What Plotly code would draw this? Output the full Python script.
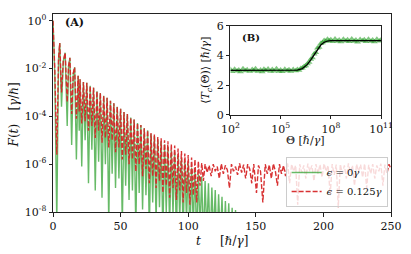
import plotly.graph_objects as go

# ---------------- data ----------------
# panel A: F(t) on log scale, stored as log10 F
green_t = [0, 1.3, 2.8, 4.1, 5.0, 6.3, 7.6, 9.0, 10.5, 11.5, 12.5, 13.8, 15.0, 16.0, 17.3, 18.6, 19.4, 20.0,
           21.25, 22.5, 23.75, 25, 26.25, 27.5, 28.75, 30, 31.25, 32.5, 33.75, 35, 36.25, 37.5, 38.75, 40,
           41.25, 42.5, 43.75, 45, 46.25, 47.5, 48.75, 50, 51.25, 52.5, 53.75, 55, 56.25, 57.5, 58.75, 60,
           61.25, 62.5, 63.75, 65, 66.25, 67.5, 68.75, 70, 71.25, 72.5, 73.75, 75, 76.25, 77.5, 78.75, 80,
           81.25, 82.5, 83.75, 85, 86.25, 87.5, 88.75, 90, 91.25, 92.5, 93.75, 95, 96.25, 97.5, 98.75, 100,
           101.25, 102.5, 103.75, 105, 106.25, 107.5, 108.75, 110, 111.25, 112.5, 113.75, 115, 116.25, 117.5,
           118.75, 120, 121.25, 122.5, 123.75, 125, 126.25, 127.5, 128.75, 130, 131.25, 132.5, 133.75, 135,
           136.25, 137.5, 138.75, 140]
green_logF = [0.0, -2.2, -8.4, -1.6, -0.93, -3.6, -1.7, -1.34, -4.4, -1.9, -1.55, -5.2, -2.2, -1.95, -5.8, -2.3, -4.6, -2.45,
              -6.1, -2.56, -5.0, -2.60, -6.8, -2.72, -5.4, -2.80, -7.1, -2.95, -5.9, -3.02, -7.4, -3.14, -6.0, -3.22,
              -8.5, -3.35, -6.4, -3.45, -7.0, -3.60, -6.6, -3.68, -8.6, -3.82, -6.9, -3.90, -7.5, -4.05, -7.1, -4.13,
              -8.7, -4.28, -7.2, -4.36, -7.9, -4.50, -7.3, -4.58, -8.8, -4.74, -7.6, -4.82, -8.4, -4.96, -7.8, -5.04,
              -8.9, -5.18, -8.0, -5.27, -8.6, -5.42, -8.1, -5.50, -9.0, -5.66, -8.3, -5.74, -8.9, -5.90, -8.4, -5.98,
              -9.1, -6.15, -8.6, -6.24, -9.2, -6.42, -8.7, -6.52, -9.3, -6.70, -8.9, -6.80, -9.4, -6.98,
              -9.0, -7.08, -9.5, -7.26, -9.2, -7.36, -9.6, -7.54, -9.4, -7.64, -9.7, -7.82, -9.5, -7.92,
              -9.8, -8.10, -9.9, -8.25]

red_t = [0, 1.3, 2.8, 4.1, 5.0, 6.3, 7.6, 9.0, 10.5, 11.5, 12.5, 13.8, 15.0, 16.0, 17.3, 18.6, 19.4, 20.0,
         21.25, 22.5, 23.75, 25, 26.25, 27.5, 28.75, 30, 31.25, 32.5, 33.75, 35, 36.25, 37.5, 38.75, 40,
         41.25, 42.5, 43.75, 45, 46.25, 47.5, 48.75, 50, 51.25, 52.5, 53.75, 55, 56.25, 57.5, 58.75, 60,
         61.25, 62.5, 63.75, 65, 66.25, 67.5, 68.75, 70, 71.25, 72.5, 73.75, 75, 76.25, 77.5, 78.75, 80,
         81.25, 82.5, 83.75, 85, 86.25, 87.5, 88.75, 90, 91.25, 92.5, 93.75, 95, 96.25, 97.5, 98.75, 100,
         101.25, 102.5, 103.75, 105, 106.25, 107.5, 108.75, 110, 111.25, 112.5,
         114, 115.5, 117, 118.5, 120, 121.5, 123, 124.5, 126, 127.5, 129, 130.5, 132, 133.5, 135, 136.5,
         138, 139.5, 141, 142.5, 144, 145.5, 147, 148.5, 150.5, 152, 153.5, 155.2, 157, 158.5, 160, 161.5,
         163, 164.5, 166, 167.5, 169, 170.5, 172, 173.5, 175, 176.5, 178, 179.5, 181, 182.5, 184, 185.5,
         187, 188.5, 190, 191.5, 193, 194.5, 196, 197.5, 199, 200.5, 202, 203.5, 205, 206.5, 208, 209.5,
         211, 212.5, 214, 215.5, 217, 218.5, 220, 221.5, 223, 224.5, 226, 227.5, 229, 230.5, 232, 233.5,
         235, 236.5, 238, 239.5, 241, 242.5, 244, 245.5, 247, 248.5, 250]
red_logF = [0.0, -2.0, -5.6, -1.6, -0.93, -3.0, -1.7, -1.34, -3.4, -1.9, -1.55, -3.9, -2.2, -1.95, -4.1, -2.3, -3.8, -2.45,
            -4.3, -2.56, -4.2, -2.60, -4.6, -2.72, -4.4, -2.80, -4.9, -2.95, -4.6, -3.02, -5.1, -3.14, -4.9, -3.22,
            -5.3, -3.35, -5.0, -3.45, -5.5, -3.60, -5.3, -3.68, -5.8, -3.82, -5.6, -3.90, -6.0, -4.05, -5.8, -4.13,
            -6.3, -4.28, -6.0, -4.36, -6.5, -4.50, -6.2, -4.58, -6.8, -4.70, -6.5, -4.76, -7.0, -4.86, -6.7, -4.92,
            -7.2, -5.00, -6.9, -5.04, -7.4, -5.16, -7.0, -5.22, -7.5, -5.35, -7.1, -5.45, -7.6, -5.55, -7.2, -5.62,
            -7.7, -5.72, -7.3, -5.80, -7.6, -5.88, -6.9, -5.95, -6.7, -6.00,
            -6.35, -6.05, -6.5, -6.00, -6.3, -6.10, -6.6, -5.98, -6.4, -6.05, -6.25, -7.0, -6.00, -6.3, -6.10, -6.45,
            -5.97, -6.35, -6.02, -6.6, -6.00, -6.2, -6.8, -6.00, -7.2, -6.05, -6.3, -7.6, -6.00, -6.4, -6.03, -6.6,
            -5.98, -6.3, -6.9, -6.00, -6.4, -6.05, -6.5, -5.97, -6.8, -6.00, -6.3, -6.05, -7.7, -6.00, -6.35, -6.05,
            -6.6, -5.98, -6.3, -6.05, -6.7, -6.00, -6.4, -6.02, -6.55, -5.98, -6.3, -6.05, -7.3, -6.00, -6.45, -6.02,
            -7.8, -6.00, -6.4, -6.05, -6.6, -5.97, -6.35, -6.05, -6.9, -6.00, -6.3, -6.02, -6.55, -5.98, -7.0, -6.03,
            -6.4, -6.00, -6.6, -6.05, -6.3, -5.98, -6.9, -6.02, -6.4, -6.00, -6.2]

# panel B: <T_c(Theta)> versus Theta (Theta stored as log10)
theta_exp = [2.0, 2.1, 2.25, 2.4, 2.5, 2.6, 2.75, 2.9, 3.0, 3.15, 3.3, 3.4, 3.5, 3.65, 3.8, 3.9, 4.0, 4.1,
             4.25, 4.4, 4.5, 4.6, 4.75, 4.9, 5.0, 5.1, 5.25, 5.4, 5.5, 5.6, 5.75, 5.9, 6.0, 6.1, 6.2, 6.3,
             6.4, 6.5, 6.6, 6.7, 6.8, 6.9, 7.0, 7.1, 7.2, 7.3, 7.4, 7.5, 7.6, 7.7, 7.8, 7.9, 8.0, 8.1,
             8.25, 8.4, 8.5, 8.6, 8.75, 8.9, 9.0, 9.1, 9.25, 9.4, 9.5, 9.6, 9.75, 9.9, 10.0, 10.1, 10.25,
             10.4, 10.5, 10.6, 10.75, 10.9, 11.0]
tc_points = [3.05, 2.92, 3.08, 2.95, 3.02, 2.90, 3.10, 2.97, 3.04, 2.93, 3.06, 2.98, 3.10, 2.94, 3.03, 2.91, 3.07, 2.99,
             3.09, 2.93, 3.05, 2.96, 3.10, 2.94, 3.02, 2.92, 3.08, 2.97, 3.04, 2.93, 3.06, 2.98, 3.05, 3.00, 3.12, 3.15,
             3.25, 3.30, 3.45, 3.55, 3.75, 3.85, 4.10, 4.20, 4.50, 4.55, 4.80, 4.85, 5.00, 4.95, 5.08, 4.98, 5.05, 4.93,
             5.10, 4.96, 5.04, 4.92, 5.08, 4.97, 5.06, 4.94, 5.10, 4.95, 5.03, 4.91, 5.07, 4.98, 5.05, 4.93, 5.09,
             4.96, 5.04, 4.92, 5.08, 4.97, 5.03]
fit_exp = [2.0, 5.5, 6.0, 6.3, 6.6, 6.8, 7.0, 7.2, 7.4, 7.6, 7.8, 8.0, 11.0]
fit_tc = [3.0, 3.0, 3.02, 3.12, 3.4, 3.7, 4.05, 4.4, 4.7, 4.88, 4.97, 5.0, 5.0]

main_yticks = [0, -2, -4, -6, -8]
main_xticks = [0, 50, 100, 150, 200, 250]
inset_xticks = [2, 5, 8, 11]
inset_yticks = [0, 2, 4, 6]

# ---------------- figure ----------------
FONT = "DejaVu Serif"
GREEN = "rgba(44,160,44,0.72)"
RED = "rgba(214,39,40,0.95)"
W, H = 411, 254
ML, MR, MT, MB = 53, 19, 8, 42

fig = go.Figure()
fig.add_trace(go.Scatter(x=green_t, y=[10 ** v for v in green_logF], mode="lines",
                         line=dict(color=GREEN, width=1.4),
                         name="<i>ϵ</i> = 0<i>γ</i>", xaxis="x", yaxis="y"))
fig.add_trace(go.Scatter(x=red_t, y=[10 ** v for v in red_logF], mode="lines",
                         line=dict(color=RED, width=1.4, dash="5px,2px"),
                         name="<i>ϵ</i> = 0.125<i>γ</i>", xaxis="x", yaxis="y"))
fig.add_trace(go.Scatter(x=[10 ** v for v in theta_exp], y=tc_points, mode="markers",
                         marker=dict(symbol="triangle-up", size=6, color="rgba(44,160,44,0.6)",
                                     line=dict(width=0)),
                         showlegend=False, xaxis="x2", yaxis="y2"))
fig.add_trace(go.Scatter(x=[10 ** v for v in fit_exp], y=fit_tc, mode="lines",
                         line=dict(color="black", width=1.3),
                         showlegend=False, xaxis="x2", yaxis="y2"))

axis_common = dict(showgrid=False, zeroline=False, showline=True, linecolor="#222", linewidth=1,
                   mirror=True, ticks="outside", ticklen=3.5, tickwidth=1, tickcolor="#222",
                   tickfont=dict(family=FONT, size=11, color="#111"))

fig.update_layout(
    width=W, height=H,
    margin=dict(l=ML, r=MR, t=MT, b=MB),
    paper_bgcolor="white", plot_bgcolor="white",
    font=dict(family=FONT, size=11, color="#111"),
    xaxis=dict(domain=[0, 1], range=[0, 250], tickvals=main_xticks, anchor="y", **axis_common),
    yaxis=dict(domain=[0, 1], type="log", range=[-8, 0.28],
               tickvals=[10 ** v for v in main_yticks],
               ticktext=[f"10<sup>{v}</sup>" for v in main_yticks], anchor="x", **axis_common),
    xaxis2=dict(domain=[0.525, 0.9705], type="log", range=[2, 11],
                tickvals=[10 ** v for v in inset_xticks],
                ticktext=[f"10<sup>{v}</sup>" for v in inset_xticks], anchor="y2", **axis_common),
    yaxis2=dict(domain=[0.49, 0.941], range=[0, 6], tickvals=inset_yticks, anchor="x2", **axis_common),
    legend=dict(x=0.99, y=0.025, xanchor="right", yanchor="bottom",
                bgcolor="rgba(255,255,255,0.82)", bordercolor="#cccccc", borderwidth=1,
                font=dict(family=FONT, size=10), tracegroupgap=2, itemwidth=30),
    showlegend=True,
)

# text labels placed at figure-pixel positions (converted to plot-area fractions)
ann = [
    dict(x=75, y=17, text="<b>(A)</b>", size=11, angle=0),
    dict(x=252, y=32, text="<b>(B)</b>", size=10, angle=0),
    dict(x=199, y=242, text="<i>t</i>", size=12, angle=0),
    dict(x=235, y=242, text="[<i>ℏ</i>/<i>γ</i>]", size=12, angle=0),
    dict(x=14, y=133, text="<i>F</i>(<i>t</i>)", size=12, angle=-90),
    dict(x=14, y=93, text="[<i>γ</i>/<i>ℏ</i>]", size=12, angle=-90),
    dict(x=306, y=138, text="Θ [<i>ℏ</i>/<i>γ</i>]", size=11, angle=0),
    dict(x=207, y=66, text="⟨<i>T<sub>c</sub></i>(Θ)⟩ [<i>ℏ</i>/<i>γ</i>]", size=11, angle=-90),
]
pw, ph = W - ML - MR, H - MT - MB
for a in ann:
    fig.add_annotation(x=(a["x"] - ML) / pw, y=(H - MB - a["y"]) / ph, xref="paper", yref="paper",
                       text=a["text"], showarrow=False, textangle=a["angle"],
                       font=dict(family=FONT, size=a["size"], color="#111"),
                       xanchor="center", yanchor="middle")

fig.write_html("out.html", config={"displayModeBar": False},
               post_script="document.body.style.margin='0px';")
